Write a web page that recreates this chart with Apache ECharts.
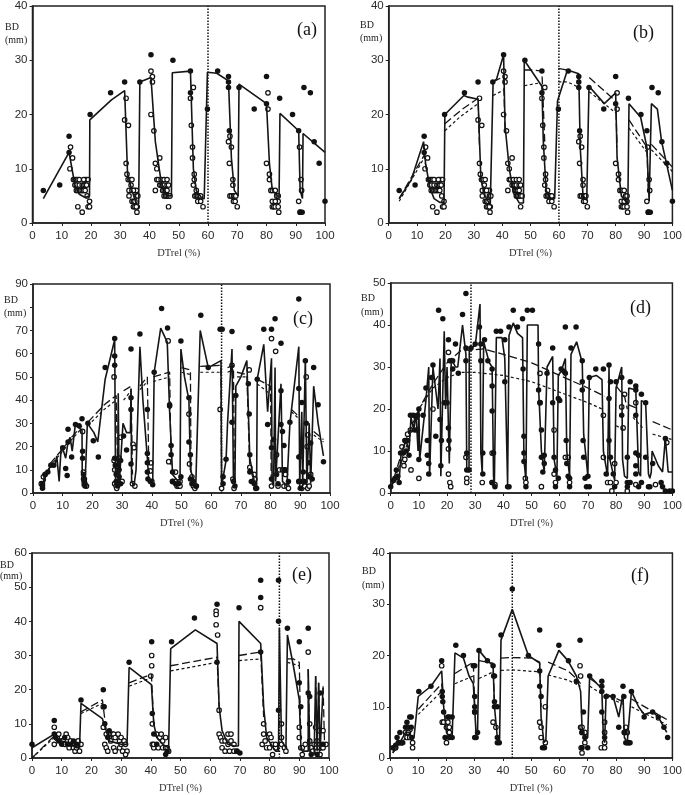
<!DOCTYPE html>
<html><head><meta charset="utf-8">
<script src="https://cdn.jsdelivr.net/npm/echarts@6/dist/echarts.min.js"></script>
<style>html,body{margin:0;padding:0;background:#fff}#c{width:685px;height:795px}</style></head>
<body><div id="c"></div>
<script>
// --- data: [DTrel %, BD mm]; null = break in a line
const xTicksMax = 100;
const yMax = [40, 40, 90, 50, 60, 40];
const yTick = [10, 10, 10, 10, 10, 10];
const letters = ['(a)','(b)','(c)','(d)','(e)','(f)'];
const crownBase = [60, 60, 63.5, 28.5, 83.3, 43.3];

const abFilled = [[3.7,6],[9.3,7],[12.5,16],[12.5,13],[19.7,20],[26.7,24],[31.5,26],[36.7,26],[40.5,31],[48,30],[54,28],[54,24],[59.8,21],[63.3,28],[67,27],[67,26],[67,25],[67.3,17],[70.6,25],[75.8,21],[80,27],[80,22],[84.5,23],[88.9,20],[91,17],[92.8,25],[95,24],[96.3,15],[98,11],[100,4],[91.5,2],[92.2,2]];
const abOpen = [[13,14],[12.8,10],[13.7,12],[14,8],[14.5,8],[15,8],[15.5,8],[16,8],[14.5,7],[15,7],[16,7],[17,7],[17.5,7],[18,7],[15,6],[15.5,6],[16,6],[16.5,6],[17,6],[17.5,6],[18,6],[18,8],[18.5,8],[19,8],[17.5,8],[18.5,7],[15.5,3],[17,2],[18.7,5],[19,3],[19.5,3],[19.5,4],
[31.5,19],[32,23],[32,11],[32.3,9],[32.8,18],[32.7,8],[33,6],[33.3,8],[33,5],[33.7,7],[34,8],[34,6],[34,4],[34.5,4],[34.5,3],[35,6],[35.5,6],[35,4],[35,3],[35.5,5],[35.7,2],[35.8,3],[36,5],[35.5,3],[34.5,6],
[40.5,20],[40.5,28],[41,27],[41,26],[41.5,17],[42,11],[42.5,10],[42,6],[42.5,8],[43,8],[43.5,12],[43.5,7],[44,8],[44,7],[44.5,7],[44.5,6],[45,8],[45,7],[45,6],[45,5],[45.5,5],[45.5,6],[46,7],[46,6],[46,5],[46.5,7],[46.5,5],[46.5,3],[47,5],[46,8],
[54,23],[54.3,18],[54.7,14],[54.7,12],[55,25],[55,7],[55.3,9],[55.3,8],[55.5,5],[56,6],[56,5],[56.5,5],[56.5,4],[57,5],[57.5,4],[57.5,5],[58.3,3],
[67,15],[67.3,11],[67.5,16],[67.5,5],[68,14],[68,5],[68.5,8],[68.5,7],[68.7,5],[68.7,4],[69,5],[69.3,4],[69.5,5],[70,3],
[80,11],[80.5,24],[80.5,21],[81,9],[81,8],[81.5,6],[82,6],[82,4],[82,3],[82.5,3],[83,6],[83,3],[83.5,4],[83.5,5],[84,5],[84,4],[84,3],[84.2,2],[83,4],
[91,4],[91.3,14],[91.8,8],[92,6],[91.5,2]];

const aSolid = [[3.7,4.5],[12.5,13],[13.5,10],[14.5,7],[16,5.3],[18,4.7],[19.5,5],[19.6,19],[27,22.7],[31.5,24.4],[32.5,9],[34,6],[35.5,3.5],[36.3,3.5],[36.7,26],[40.5,26.8],[42,15],[44,7.5],[46,5],[47.5,5],[47.8,27.7],[54,28],[55,10],[56,6],[58,4.5],[58.7,4.5],[59.8,27.8],[63,27.6],[67,26.2],[68,12],[69,6],[70.3,5],[70.6,25.6],[80,22],[81,11],[82,6],[84.3,4.7],[84.6,20.2],[91,17],[91.5,6],[92.3,4.5],[92.5,16.5],[100,13]];

const bSolid = [[3.7,4.5],[8,8],[12.3,15],[13,11],[14.5,6.5],[16,4.5],[18,3.8],[19.5,3.8],[19.8,20],[26.5,23.5],[28,23.2],[31.5,22.8],[32.5,8],[34,5],[35.8,3.3],[36.4,3.3],[36.8,26],[38,26.5],[40.5,31],[41,18],[42.5,10],[44,5.5],[46,3.7],[47.5,3.7],[47.8,30],[54,25.2],[54.5,15],[55.5,6],[57,4.5],[58.5,4.5],[59.5,22.5],[63,28.2],[67,27.5],[67.5,14],[68.5,5],[69.8,4.2],[70.6,25.2],[76,22],[80,24],[80.5,12],[82,5],[84.3,3.5],[84.7,22],[88.8,19.5],[91,14],[91.8,4],[92.4,4],[92.6,22],[94.7,21],[96.2,15],[100,6]];
const bLong = [[3.7,4.5],[12.5,12.5],[13.2,10],null,[19.8,18.3],[26,21],[31.5,23],[32,14],null,[36.8,26],[40.5,27],[41,17],null,[47.8,28.2],[51,28.2],[54,28],[55,15],null,[59.8,28.5],[63,28.2],null,[70.7,26.8],[80,22.5],[80.5,14],null,[84.7,19],[91,14],[91.5,6],null,[92.6,14.5],[100,10.3]];
const bShort = [[3.7,4],[12.5,12],null,[19.8,17],[25,19.5],[31.5,22],null,[36.8,23.5],[40.5,24.5],null,[47.8,25.3],[53,25.8],[54,25.3],null,[59.8,26],[63,26],[67,25],null,[70.7,24.2],[80,20.3],null,[84.7,17.5],[91,13],null,[92.6,13.5],[100,9.5]];

const cSolid = [[3.2,2],[4,9],[5,9],[6.3,13],[7.5,12.5],[8,16],[8.8,5],[9.5,20],[10.3,18],[11,15],[11.8,22],[12.5,24],[13.2,18],[14.3,30],[15.5,28],[16.5,27],[16.6,3],[17.5,3],[18.3,30],[20.5,26],[21.8,22],[24.3,49],[27.5,66],[27.8,3],[28.5,3],[28.7,43],[29,3],[30.3,30],[31.5,26],[32.8,26],[33,45],[33.2,5],[34,3],[34.7,10],[36,63],[37,40],[38.5,15],[39,5],[40.3,4],[40.8,52],[43,71],[45.2,65],[46,35],[47,8],[49.5,4],[49.8,62],[51,50],[52.5,40],[53,10],[54.8,3],[56.3,70],[59,54],[63.3,57],[63.5,3],[65,14],[65.5,30],[67,62],[67.5,4],[68,5],[68.3,46],[70,50],[72,57],[73,15],[74.5,5],[75.3,3],[75.5,49],[77.7,64],[79,35],[80.3,58],[80.5,5],[81,3],[81.5,54],[81.7,5],[83.5,47],[84,5],[85.5,3],[86.5,30],[89.5,63],[89.8,3],[90.5,35],[90.8,3],[91.7,58],[92.2,4],[93,30],[93.5,4],[94.5,46],[96,30],[97.8,16]];
const cLong = [[3.3,3],[6,13],[10,19],[13,24],[16.5,29],null,[18.5,30.5],[24,38],[28,42],[28.5,10],null,[30.5,44],[33,46],[33.5,8],null,[36,46],[38.5,50],[39,10],null,[40.5,50],[46,52],[46.5,12],null,[50,54],[53,53],[53.2,8],null,[56.3,54.5],[63.3,55],[63.5,3],null,[65.5,54],[67.5,55],[67.8,5],null,[68.7,52],[72,51],[73,10],null,[75.5,49],[80,46],[80.2,5],null,[87,36],[89.5,33],null,[94.5,26.5],[97.8,23]];
const cShort = [[3.3,2.5],[6,12],[10,18],[13,23],[16.5,28],null,[18.5,29],[24,36],[28,40],null,[30.5,40],[33,44],null,[36,44.5],[38.5,48],null,[40.5,48],[46,50],null,[50,52],[53,51],null,[56.3,52],[63.3,52],null,[65.5,52],[67.5,53],null,[68.7,50],[72,50],null,[75.5,47],[80,42.5],null,[87,35],[89.5,32],null,[94.5,25],[97.8,22]];
const cFilled = [[3.2,2],[3.2,3],[3.2,4],[4,8],[5,9],[6,12],[7,12],[10,19.5],[11,10.5],[11.5,7.5],[11.8,27.5],[11.8,22],[13,15.5],[14.3,29.5],[15.5,29],[16.5,32],[16.7,18],[16.7,15],[17,8],[17,6],[17.3,5],[17.5,4],[17.5,3],[18.5,30],[20.3,22.5],[22,15.5],[24.3,54],[27.5,66.5],[27.5,59],[27.5,55],[27.5,15],[27.7,12],[28,8],[28,5],[28.5,3],[29,10],[29.5,14],[29,7],[29.5,4],[30.5,24.5],[31.5,18.5],[33,62],[33,41],[33,36],[33,12.5],[36,68.5],[38.5,36],[38.5,17],[38.5,13],[38.5,9],[38.7,6],[39.5,5],[40.3,3.5],[40.8,52],[43.3,79.5],[45.3,71],[46,37.5],[46,38],[46.5,20.5],[46.5,16.5],[47,9],[47,5],[48,4],[49,4],[49.8,65.5],[49.8,7],[52.5,41],[52.5,22],[53,16.5],[53,6],[53.5,4],[54,5],[54.8,3],[56.5,76.5],[59,54],[63,70.5],[63.7,70.5],[64,7],[64,4],[65,14.5],[67,69.5],[67,30.5],[67.5,5],[68,3],[68.3,42],[72.5,47],[72.8,34],[72.8,62.5],[73,16.5],[73,9],[73.5,5],[74.5,4],[75.5,49],[75.3,2],[77.7,70.5],[79,29.5],[80.3,70.5],[80.3,19.5],[80.3,6],[81,23],[81.5,75],[82,8],[82.5,4],[83.5,64.5],[83.5,44],[83.5,29.5],[84,26.5],[84.5,20.5],[84.5,10],[85,10],[86,5],[86.5,30.5],[89.5,83.5],[89.5,45],[89.5,15.5],[89.7,5],[90,2],[90.5,39],[91,9],[91.5,5],[91.7,57],[92,30],[93,7],[93,13],[93.5,21.5],[94,6],[94.5,54],[96,38],[97.8,13.5]];
const cOpen = [[2.8,4],[3.5,7],[16.7,26.5],[17,9],[17.3,6],[18,3],[27.3,50],[27.3,14],[27.5,10],[27.5,4],[28,3],[28.2,2],[29,15],[29.5,24],[30,5],[33.5,4],[33.7,21],[34,19.5],[34.3,3],[39.5,9.5],[39.7,13],[40,5],[45.5,65.5],[45.7,13.5],[47,5],[48,9],[48,5],[48.5,3],[49,3],[49.5,5],[49.5,3],[52.5,34],[52.7,12.5],[53.5,7],[54,3],[54.5,2],[55,3],[63,36],[63.5,2],[67,55],[67.3,6],[67.7,2],[72.8,53],[73,11],[74.5,8],[74.7,6],[75,2],[80.3,66.5],[80.3,3],[81.7,61],[82,16.5],[82.5,3],[83,10],[84,10],[84.5,3],[85,8],[85.5,3],[86,2],[89.5,5],[90.2,16],[90.5,2],[91,5],[91.5,3],[92,50],[92.5,25],[92.5,2],[93,3],[93.5,8],[92.3,20]];

const dSolid = [[0,1],[1.5,3.5],[3,3],[3.7,9.5],[5.5,12.5],[6.5,10],[7.2,18],[8.2,15],[9,19],[9.7,10],[10,20],[10.3,8],[12.5,22],[13.5,30],[13.8,4],[15,30],[16.8,20],[17.5,32],[17.8,4],[19,38.5],[19.5,20],[20,30],[20.5,30],[20.8,7],[21.5,32],[23,30],[23.8,30],[25.5,40],[26.7,33],[27,6],[27.8,5],[27.9,34.5],[30,35],[31.7,45],[32,10],[32.5,4.5],[33,36],[35,31],[36,30],[36.5,4],[36.8,2],[37.5,37],[39.5,37],[40.5,32],[41.5,2],[42,37.5],[43.5,40.5],[45,38],[46.8,37],[47.3,8],[48,3],[48.5,40],[52.3,40],[52.5,25],[53.5,10],[54.5,5],[55.5,30],[57.5,32.5],[58,8],[59,4],[59.5,28],[60.5,29],[62,32],[62.5,10],[63.5,4],[64,33],[66,36],[68,31],[68.5,14],[70,4],[70.5,27.5],[73,28],[75,27],[75.5,10],[77,4],[77.5,30],[77.8,8],[79.5,3],[80,25],[82,30],[82.3,8],[83,4],[84,3.5],[84.5,25],[87,24.5],[88,5],[88.7,4],[89,22],[90.5,21.5],[91.5,4.5],[92,3.5],[92.5,5],[92.8,10],[95,6.5],[96.5,5],[97.5,13],[98.5,5],[100,5]];
const dLong = [[0,1],[5,12],[10,20],[15,26],[20,31],[25,34],[28.5,34],[33,34.3],[40,33],[50,31],[60,28],[70,25],[76,23],null,[80,25.5],[83,23],[84,20],null,[84.5,21],[88,20],null,[93,17],[100,15]];
const dShort = [[0,1],[5,10],[10,20],[15,25],[20,27.5],[25,28.7],[30,28.7],[40,28],[50,26.5],[60,24],[70,21.5],[75,20],null,[80,16],[83,15],null,[86,18],[89.5,15.5],null,[93,14],[100,12.7]];
const dFilled = [[0,1.5],[1,3],[1.5,3.5],[2,5.5],[2.5,4],[3,2.5],[3.5,9.5],[4.5,9.5],[5,12.5],[5.5,10],[6,12.5],[6.5,9],[7,18.5],[8,18.5],[8.5,15],[9,18],[9.5,18.5],[10,20],[10,8],[11.5,18.5],[12.5,25],[13,12.5],[13,9],[13.5,7],[13.5,4.5],[14.5,27.5],[15,30.5],[16,13.5],[17,43.5],[17.5,17.5],[17.8,6.5],[18,12.5],[18.5,41.5],[19,21.5],[20,21.5],[20.5,36.5],[20.5,15.5],[20.7,12.5],[21,31.5],[22,31.5],[22,29.5],[23,35.5],[24,28.5],[25.5,42.5],[26.7,47.5],[26.7,34.5],[26.7,31.5],[27,9.5],[27,5.5],[27.8,5.5],[28.5,34.5],[30,35.5],[31.5,39.5],[32,35.5],[32,31.5],[32.7,9.5],[32.7,4.5],[33.3,36.5],[34.5,31.5],[36,29.5],[36,25.5],[36,19.5],[36.5,9.5],[36,2.5],[37,1.5],[37.5,38.5],[39,38.5],[40.5,36.5],[40.5,26.5],[41.5,1.5],[42,1.5],[42,39.5],[43.5,43.5],[45,39.5],[46.8,41.5],[47,29.5],[47.3,13.5],[47.3,9.5],[47.3,7.5],[48,1.5],[48.5,43.5],[50.3,43.5],[52.5,35.5],[52.5,24.5],[53,21.5],[53.5,15],[53.5,8.5],[54,5],[54.5,7],[54.5,9],[55.5,28.5],[57.5,34.5],[57.5,21.5],[58,8.5],[58.5,5.5],[58.5,1.5],[59.5,3.5],[59.5,22.5],[60,22],[60.5,29.5],[61.5,29],[62,39.5],[62,28.5],[62.3,12.5],[62.5,7],[63,4],[63.5,3.5],[63.5,1.5],[64,34.5],[65.8,39.5],[68,31.5],[68,26.5],[68,24.5],[68.3,12.5],[68.5,8.5],[69,3.5],[70,4],[69.5,1.5],[70.5,1.5],[70.5,27.5],[72.8,29.5],[75.5,29.5],[76.5,4.5],[77.5,30.5],[77.5,22.5],[77.5,12.5],[78,8.5],[78,26.5],[79,4.5],[79.5,1.5],[80,26.5],[82,27.5],[82,18.5],[84,8.5],[84,2.5],[85,2.5],[84,1.5],[85,26.5],[87,25.5],[87,24.5],[87,18.5],[87,9.5],[87,6.5],[87,4.5],[88,9],[88,1.5],[89,23.5],[89,2.5],[90.5,21.5],[90.5,8.5],[91.5,1.5],[92,1.5],[93,7],[96,2.5],[96.5,1.5],[97.5,13],[97.5,0.5],[99,0.5],[100,0.5]];
const dOpen = [[4,11],[4.5,7.5],[4.7,6.5],[5,8],[6,14],[7,15],[7.2,5.5],[9.5,15],[10,3.5],[15,20],[26.7,8.5],[27,3.5],[27,2.5],[36,9.5],[36,2.5],[37,2],[20.5,10.5],[20.5,33.5],[20.5,4.5],[21,2.5],[21.3,1.5],[32.5,2.5],[47.8,3.5],[48,2.5],[53,21.5],[53.5,1.5],[53,28.5],[58,4.5],[58,15],[58.5,2.5],[62,8.5],[63,8.5],[63.5,2.5],[75.5,18.5],[75.5,8.5],[77,2.5],[78,2.5],[78.5,0.5],[79.5,7],[80,2.5],[82,20.5],[82.5,15.5],[83,23.5],[84,0.5],[87,21.5],[87,2],[94,2],[98,12]];

const eSolid = [[0,3],[7.5,7],[8,6],[10,5],[12,4.5],[15,3],[16,3],[16.5,16],[23.7,11.5],[25,8],[26,5],[28,4.5],[30,4],[32,4],[32.7,26.5],[40.2,21.5],[41,10],[42,6],[44,4],[46,3],[46.7,32],[55,37.5],[62.3,33.5],[63,15],[64,8],[66,4],[68,3.5],[69.5,3.5],[69.7,40],[77,33.5],[78,15],[79,6],[82,2],[83,2],[83.3,38],[84,5],[85.5,3],[86,36],[88,27],[90,17],[90.5,4],[91,2],[93,2],[93,26],[93.5,2],[95,1],[95.5,24],[96,2],[96.5,22],[97,2],[97.5,2],[98,20.5]];
const eLong = [[0,0],[7.5,6.5],[8,5],null,[16.5,13.5],[23.7,17],[25,8],null,[32.7,22],[40.2,24.5],[41,10],null,[46.7,27],[62.3,29.5],[63,15],null,[69.7,30],[77,31],[78,12],null,[86,29],[88,29],[90,28],[90.5,5],null,[93,26],[93.5,3],null,[95.5,24],[96,3],null,[96.5,22],[97,3],null,[98,21],[98.5,4]];
const eShort = [[0,0],[7.5,6],null,[16.5,13],[23.7,16],null,[32.7,21],[40.2,23.5],null,[46.7,25.5],[62.3,28],null,[69.7,28.5],[77,29],null,[86,28],[90,27]];
const eFilled = [[0,4],[7.5,11],[7.5,7],[8,6],[9,5],[10,4],[11,6],[12,4],[13,4],[14,5],[15,4],[16.5,17],[24,20],[24.3,15],[24.5,10],[25.5,6],[26,8],[32.7,28],[40.3,34],[40.5,13],[41,7],[42,4],[45,1],[45.5,2],[47,34],[54.7,41],[62.3,45],[62.3,28],[69,2],[70,1.5],[69.7,44],[77,52],[77,47],[77,31],[83,52],[83,40],[83,14],[86,38],[90,34],[90,22],[90.5,15],[93,38],[93,19],[93.5,18],[96,1],[97,19],[94,1],[98,4]];
const eOpen = [[7.5,9],[7.5,4],[8.5,6],[9,7],[10,5],[10.5,5],[11,4],[11.5,7],[12,6],[12.5,3],[13,5],[13.5,4],[14,3],[14.5,2],[15,3],[15.5,5],[16,2],[16.5,4],[24,15],[24,9],[24.5,4],[25,7],[25,3],[25.5,2],[26,6],[26.5,5],[27,7],[27.5,7],[27.5,3],[28,6],[28,2],[29,7],[29.5,5],[29.5,3],[30,6],[30,4],[30.5,2],[31,5],[31.5,4],[32,2],[31.5,1],[40,24],[40.3,30],[40.3,27],[40.5,10],[40.5,4],[41,3],[41,4],[42,7],[42.5,3],[43,6],[43.5,7],[44,5],[44,3],[45,6],[45,3],[45.5,3],[46,2],[62,43],[62,42],[62,39],[62.5,36],[63,14],[63,7],[63.5,6],[64,5],[64,3],[65,5],[65,2],[66,7],[66,4],[66.5,2],[67,5],[67,7],[68,4],[68,2],[69,2],[77,44],[78,10],[78,7],[77.5,4],[78.5,5],[79,3],[80,7],[80,3],[80.5,6],[81,4],[81,1],[82,3],[82,4],[84,10],[84,6],[84,4],[85,3],[85.5,2],[90,9],[90,6],[90.5,3],[91,3],[91,1],[92,4],[93,31],[93.5,10],[93.5,5],[94,3],[94.5,2],[95,4],[95.5,9],[96,5],[96,2],[96.5,8],[97,4],[97,1],[97.5,3],[98,8],[98,3],[99,4]];

const fSolid = [[1,1],[2.5,3],[4,3.5],[5.5,5],[7,5],[7.7,3.5],[8.5,4],[10,12],[14.5,14],[18.3,17],[19,10],[20,5],[21,4],[22,4],[23,20.5],[26,19.5],[28,16],[29.5,14.5],[30.5,4.5],[31,5],[31.5,21],[34.5,19],[36.5,18],[37,10],[38,4],[38.8,3],[39.3,23],[43.3,29],[49,20],[53,18.5],[53.5,8],[54.5,3],[55.2,3.5],[56,16],[59.8,21],[63,19],[66,16],[67.5,13],[68,6],[69,3.5],[70,4],[70.7,16],[75,13.5],[75.5,5],[76,3],[76.5,12],[79,12],[81,8],[82.5,12.5],[83,4],[84,3],[85.5,13],[88,10],[90,8.5],[93,9],[95,8],[98,5]];
const fLong = [[1,1],[8,5.5],null,[10,9.5],[18.3,14.5],[19,10],null,[23,16.5],[29.5,18.7],[30,10],null,[31.5,19],[36.5,18.5],[37,10],null,[39.3,19.5],[43.3,19.6],[50,19.5],[53,18.7],[53.5,10],null,[56,18.7],[63,17],[66,15.5],[67.5,14.5],null,[70.7,15.5],[75,14],null,[76.5,12.5],[82.5,11],null,[85.5,11.5],[98,7.5]];
const fShort = [[10,8.5],[18.3,13],null,[23,14.5],[29.5,16],null,[31.5,15.5],[36.5,16.8],null,[39.3,17.1],[43.3,17.2],[53,16.8],null,[56,16.2],[63,15.2],[67.5,14],null,[70.7,14],[75,12.5],null,[76.5,12],[82.5,10.5],null,[85.5,10],[98,6.5]];
const fFilled = [[1,2],[2,2.5],[2.5,4],[3,3],[3.5,5],[4,3],[4.5,3],[5.5,6],[6,7],[6.5,6],[7,8],[7.5,8],[7.7,4],[7.5,6],[10.2,13],[14.5,14],[18.3,19],[18.5,13],[18.5,12],[18.7,11],[19,9],[19.5,4],[20.5,8],[21,8],[21,4],[22,4],[22,8],[23.3,22],[26,20],[29.5,18],[30,18],[30,12],[30,10],[30,9],[30,4],[30.5,4],[31,5],[31.5,21],[34.5,19],[36.5,18],[36.7,16],[37,16],[37,11],[37,10],[38,10],[38,4],[38,3],[38.7,3],[39.3,24],[43.3,33],[49,20],[53,25],[53,17],[53,14],[53.5,12],[54,2],[54.7,2],[59.8,22],[63.2,19],[66,15],[67.3,23],[68,2],[68,5],[68.5,9],[69,4],[70,2],[70.7,16],[75,15],[75,13],[75,14],[75,9],[76,4],[76.5,12],[79,12],[81,6],[82.5,14],[82.8,12],[83,5],[83.5,3],[84,3],[85,3],[85.5,13],[90,8],[93,9],[95,8],[97,6],[98.3,4]];
const fOpen = [[1.5,2],[2,2],[3,3],[4,3],[5.5,5],[6,4],[6.5,5],[7,4],[8,3],[8,2],[18.3,18],[18.5,7],[19,7],[20,3],[20,6],[20.5,7],[21,6],[21,5],[30,9],[36.5,7],[37.5,6],[53,7],[53.5,6],[53.5,4],[55,10],[55,3],[67.3,18],[67.5,16],[67.5,6],[67.7,2],[68,1],[68,6],[68,5],[69,5],[69,3],[74.8,2],[76,7],[76,5],[76,3],[76,2],[83,5],[83.5,6],[84,5],[84.5,3]];

const panelData = [
  {solid:aSolid, long:null,  short:null,  filled:abFilled, open:abOpen},
  {solid:bSolid, long:bLong, short:bShort,filled:abFilled, open:abOpen},
  {solid:cSolid, long:cLong, short:cShort,filled:cFilled,  open:cOpen},
  {solid:dSolid, long:dLong, short:dShort,filled:dFilled,  open:dOpen},
  {solid:eSolid, long:eLong, short:eShort,filled:eFilled,  open:eOpen},
  {solid:fSolid, long:fLong, short:fShort,filled:fFilled,  open:fOpen}
];

// --- layout
const boxes = [
  {x0:32.5,x1:325,yT:4,yB:223},
  {x0:388.7,x1:674,yT:4,yB:223},
  {x0:33,x1:330,yT:284,yB:493},
  {x0:390.7,x1:674,yT:283,yB:493},
  {x0:32,x1:329,yT:553,yB:760},
  {x0:390,x1:673,yT:553,yB:760}
];
const letterPos = [[297,21],[633,24],[293,310],[630,299],[292,566],[631,567]];
const bdPos = [[5,22,5,35],[360,20,360,33],[4,295,4,308],[361,293,361,307],[0,560,0,571],[362,566,362,580]];

const ink = '#151515';
const clean = a => a.map(p => p === null ? ['-','-'] : p);
const grid=[], xAxis=[], yAxis=[], series=[], graphic=[];
boxes.forEach((b,i)=>{
  grid.push({left:b.x0, top:b.yT, width:b.x1-b.x0, height:b.yB-b.yT, show:true, borderColor:'#222', borderWidth:1.5, backgroundColor:'#fff'});
  xAxis.push({type:'value', gridIndex:i, min:0, max:xTicksMax, interval:10, splitLine:{show:false},
    axisLine:{show:true,lineStyle:{color:'#222',width:1.5}}, axisTick:{length:3,lineStyle:{color:'#222'}},
    axisLabel:{color:'#2a2a2a',fontFamily:'Liberation Sans',fontSize:11.5,margin:7},
    name:'DTrel (%)', nameLocation:'middle', nameGap:25, nameTextStyle:{color:'#333',fontFamily:'Liberation Serif',fontSize:10.5}});
  yAxis.push({type:'value', gridIndex:i, min:0, max:yMax[i], interval:yTick[i], splitLine:{show:false},
    axisLine:{show:true,lineStyle:{color:'#222',width:1.5}}, axisTick:{length:3,lineStyle:{color:'#222'}},
    axisLabel:{color:'#2a2a2a',fontFamily:'Liberation Sans',fontSize:11.5,margin:5,
      formatter:v=> (i===2 && v===80) ? '' : String(v)}});
  const d = panelData[i];
  const base = {type:'line', xAxisIndex:i, yAxisIndex:i, showSymbol:false, symbol:'none', connectNulls:false, silent:true, animation:false, clip:false};
  series.push({...base, data:[[crownBase[i],0],[crownBase[i],yMax[i]]], lineStyle:{color:'#111',width:1.5,type:[1.5,1.5]}, z:2});
  const scatter = (data,size,fill,bw)=>series.push({type:'scatter',xAxisIndex:i,yAxisIndex:i,data,symbolSize:size,silent:true,animation:false,
    itemStyle:{color:fill,borderColor:'#111',borderWidth:bw,opacity:1},z:3,clip:false});
  scatter(d.open,4.5,'#fff',1.2);
  scatter(d.filled,5.5,'#111',0);
  if(d.short) series.push({...base,data:clean(d.short),lineStyle:{color:ink,width:1.2,type:[3,2.5]},z:4});
  if(d.long) series.push({...base,data:clean(d.long),lineStyle:{color:ink,width:1.3,type:[8,3.5]},z:4});
  series.push({...base,data:clean(d.solid),lineStyle:{color:ink,width:1.6},z:5});
  graphic.push({type:'text',left:letterPos[i][0],top:letterPos[i][1],z:10,style:{text:letters[i],font:'18px "Liberation Serif"',fill:'#111'}});
  graphic.push({type:'text',left:bdPos[i][0],top:bdPos[i][1],z:10,style:{text:'BD',font:'10px "Liberation Serif"',fill:'#222'}});
  graphic.push({type:'text',left:bdPos[i][2],top:bdPos[i][3],z:10,style:{text:'(mm)',font:'10px "Liberation Serif"',fill:'#222'}});
});
const chart = echarts.init(document.getElementById('c'),null,{renderer:'canvas'});
chart.setOption({animation:false,backgroundColor:'#fff',grid,xAxis,yAxis,series,graphic});
</script></body></html>
